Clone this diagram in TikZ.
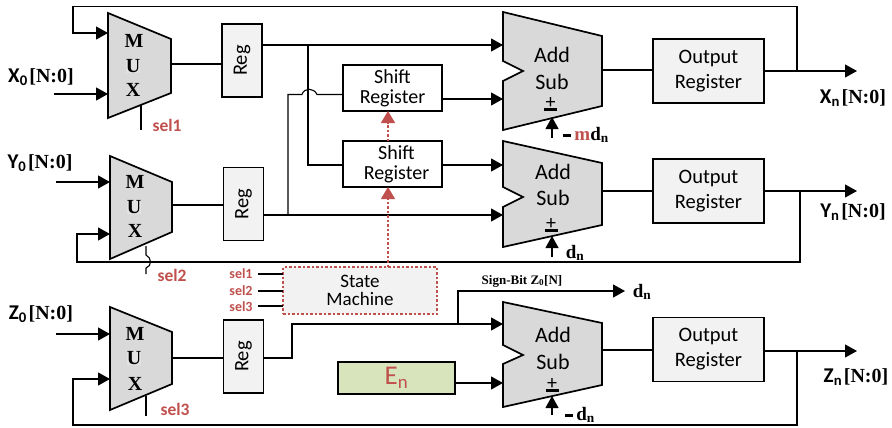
\documentclass[tikz,border=0pt]{standalone}
\usepackage{fontspec}
\setmainfont{Carlito}
\newfontfamily\timesfont{Liberation Serif}
\usepackage{xcolor}
\usetikzlibrary{arrows.meta, positioning, calc}
\definecolor{kgray}{HTML}{D9D9D9}
\definecolor{kbox}{HTML}{F2F2F2}
\definecolor{kred}{HTML}{C0504D}
\definecolor{kgreen}{HTML}{D8E4BC}
\newcommand{\portlabel}[2]{{\fontsize{21}{21}\selectfont\bfseries #1\textsubscript{#2}}\,{\timesfont\fontsize{20}{20}\selectfont\bfseries [N:0]}}
\newcommand{\plusbar}{\shortstack{\fontsize{20}{10}\selectfont +\\[-3pt]\rule{13pt}{3pt}}}
\newcommand{\minusbar}{\rule[3.5pt]{8pt}{2.6pt}}
\tikzset{
  wire/.style={line width=1.1pt},
  arrowwire/.style={wire, -{Triangle[length=12pt, width=13pt]}},
  reddash/.style={kred, line width=1.2pt, dash pattern=on 2.5pt off 2pt, -{Triangle[length=12pt, width=14pt]}},
  blockshape/.style={fill=kgray, draw=black, line width=1.7pt, line join=miter},
  boxnode/.style={draw, fill=kbox, line width=1.3pt, inner sep=0pt, outer sep=0pt, align=center, font=\fontsize{20.5}{25}\selectfont},
  regnode/.style={boxnode, minimum width=40pt, minimum height=73pt},
  outnode/.style={boxnode, minimum width=111pt, minimum height=64pt},
  shiftnode/.style={draw, fill=white, line width=1.3pt, inner sep=0pt, outer sep=0pt, align=center, minimum width=99pt, minimum height=46pt, font=\fontsize{20}{20}\selectfont},
  muxtext/.style={font=\timesfont\fontsize{20}{20}\selectfont\bfseries, inner sep=0pt},
  addtext/.style={font=\fontsize{22}{22}\selectfont, inner sep=0pt},
  seltext/.style={font=\fontsize{17.5}{17.5}\selectfont\bfseries, text=kred, inner sep=0pt},
  smalltext/.style={font=\fontsize{14}{14}\selectfont\bfseries, text=kred, inner sep=0pt},
  valtext/.style={font=\timesfont\fontsize{19}{19}\selectfont\bfseries, inner sep=0pt},
  iolabel/.style={inner sep=0pt},
}
\begin{document}
\begin{tikzpicture}[x=1pt, y=-1pt]
\useasboundingbox (0,0) rectangle (892,428);
% multiplexers
\draw[blockshape] (108,13) -- (171,39) -- (171,93) -- (108,118) -- cycle;
\draw[blockshape] (110,156) -- (172,182) -- (172,232) -- (110,259) -- cycle;
\draw[blockshape] (110,307) -- (172,332) -- (172,384) -- (110,410) -- cycle;
\node[muxtext] (mux1m) at (134,41) {M};
\node[muxtext, fill=kgray!75] (mux1u) at (133,66) {U};
\node[muxtext] (mux1x) at (133,90) {X};
\node[muxtext] (mux2m) at (135,182) {M};
\node[muxtext, fill=kgray!75] (mux2u) at (134,207) {U};
\node[muxtext] (mux2x) at (135,231) {X};
\node[muxtext] (mux3m) at (135,334) {M};
\node[muxtext, fill=kgray!75] (mux3u) at (134,358) {U};
\node[muxtext] (mux3x) at (135,384) {X};
% add/sub blocks
\draw[blockshape] (503,12) -- (602,36) -- (602,106) -- (503,130) -- (503,81) -- (523,71) -- (503,61) -- cycle;
\draw[blockshape] (503,141) -- (602,163) -- (602,225) -- (503,247) -- (503,207) -- (523,197) -- (503,187) -- cycle;
\draw[blockshape] (503,302) -- (602,323) -- (602,385) -- (503,407) -- (503,364) -- (523,355) -- (503,345) -- cycle;
\node[addtext] (add1a) at (552,55) {Add};
\node[addtext] (add1s) at (552,82) {Sub};
\node[addtext] (add1p) at (550.5,104.5) {\plusbar};
\node[addtext] (add2a) at (553,172) {Add};
\node[addtext] (add2s) at (553,198) {Sub};
\node[addtext] (add2p) at (551,225.5) {\plusbar};
\node[addtext] (add3a) at (553,335) {Add};
\node[addtext] (add3s) at (553,362) {Sub};
\node[addtext] (add3p) at (552,385) {\plusbar};
% registers
\node[regnode] (reg1) at (242,60.5) {\rotatebox{90}{Reg}};
\node[regnode] (reg2) at (243.5,204) {\rotatebox{90}{Reg}};
\node[regnode] (reg3) at (243.5,356.5) {\rotatebox{90}{Reg}};
\node[shiftnode] (shift1) at (392.5,88) {\raisebox{-1pt}{Shift}\\\raisebox{-1pt}{Register}};
\node[shiftnode] (shift2) at (392.5,164) {\hspace{8pt}\raisebox{-1pt}{Shift}\\\hspace{8pt}\raisebox{-1pt}{Register}};
\node[outnode] (out1) at (708.5,71) {\raisebox{-1pt}{Output}\\\raisebox{-1pt}{Register}};
\node[outnode] (out2) at (708.5,191) {\raisebox{-1pt}{Output}\\\raisebox{-1pt}{Register}};
\node[outnode] (out3) at (708.5,349.5) {\raisebox{-1pt}{Output}\\\raisebox{-1pt}{Register}};
\node[draw=kred, fill=kbox, dash pattern=on 2.5pt off 2pt, line width=1.2pt, minimum width=154pt, minimum height=47pt, inner sep=0pt, outer sep=0pt, align=center, font=\fontsize{19}{18}\selectfont] (fsm) at (360,290.5) {State\\Machine};
\node[draw, fill=kgreen, line width=1.3pt, minimum width=117pt, minimum height=32pt, inner sep=0pt, outer sep=0pt, text=kred, font=\fontsize{27}{27}\selectfont] (en) at (396.5,378) {E\textsubscript{n}};
% end points of the free wires
\coordinate (x0in) at (54,94);
\coordinate (y0in) at (56,182);
\coordinate (z0in) at (56,334);
\coordinate (xnout) at (857,71);
\coordinate (ynout) at (857,191);
\coordinate (znout) at (857,351);
\coordinate (dnout) at (625,291);
% inputs and feedback
\draw[arrowwire] (x0in) -- (x0in -| 108,0);
\draw[arrowwire] (y0in) -- (y0in -| 110,0);
\draw[arrowwire] (z0in) -- (z0in -| 110,0);
\draw[arrowwire] (797,71) -- (797,6.5) -- (73,6.5) -- (73,33) -- (108,33);
\draw[arrowwire] (800,191) -- (800,262) -- (77,262) -- (77,234) -- (110,234);
\draw[arrowwire] (797,351) -- (797,425) -- (73,425) -- (73,379) -- (110,379);
% mux to reg
\draw[wire] (171,64) -- (reg1.west |- 0,64);
\draw[wire] (172,205) -- (reg2.west |- 0,205);
\draw[wire] (172,358) -- (reg3.west |- 0,358);
\draw[wire] (141,105) -- (141,130);
\draw[wire] (146,246) -- (146,255) .. controls (152,258) and (152,266) .. (146,268) -- (146,274);
\draw[wire] (146,396) -- (146,416);
% reg to add/sub
\draw[arrowwire] (reg1.east |- 0,45) -- (503,45);
\draw[arrowwire] (reg2.east |- 0,215) -- (503,215);
\draw[wire] (308,45) -- (308,165) -- (shift2.west |- 0,165);
\draw[wire] (288,215) -- (288,94.5) -- (302,94.5) .. controls (304,87.5) and (314,87.5) .. (317,94.5) -- (shift1.west |- 0,94.5);
\draw[arrowwire] (shift1.east |- 0,99) -- (503,99);
\draw[arrowwire] (shift2.east |- 0,165) -- (503,165);
\draw[arrowwire] (reg3.east |- 0,358) -- (292,358) -- (292,324) -- (503,324);
\draw[arrowwire] (458,324) -- (458,291) -- (dnout);
\draw[arrowwire] (en.east |- 0,383) -- (503,383);
% add/sub to output
\draw[wire] (602,70) -- (out1.west |- 0,70);
\draw[wire] (602,191) -- (out2.west);
\draw[wire] (602,350) -- (out3.west |- 0,350);
\draw[arrowwire] (out1.east) -- (xnout);
\draw[arrowwire] (out2.east) -- (ynout);
\draw[arrowwire] (out3.east |- znout) -- (znout);
% +/- controls
\draw[arrowwire] (552,138) -- (552,117);
\draw[arrowwire] (552,257) -- (552,236);
\draw[arrowwire] (552,415) -- (552,396);
% state machine
\draw[wire] (258,274) -- (fsm.west |- 0,274);
\draw[wire] (258,291) -- (fsm.west |- 0,291);
\draw[wire] (258,306) -- (fsm.west |- 0,306);
\draw[reddash] (fsm.north -| 388,0) -- (shift2.south -| 388,0);
\draw[reddash] (shift2.north -| 388,0) -- (shift1.south -| 388,0);
% labels
\node[iolabel] (x0lab) at (41,77) {\portlabel{X}{0}};
\node[iolabel] (y0lab) at (40,163) {\portlabel{Y}{0}};
\node[iolabel] (z0lab) at (41,314) {\portlabel{Z}{0}};
\node[iolabel] (xnlab) at (853,98) {\portlabel{X}{n}};
\node[iolabel] (ynlab) at (853,212) {\portlabel{Y}{n}};
\node[iolabel] (znlab) at (856,377) {\portlabel{Z}{n}};
\node[seltext] (sel1lab) at (167,125) {sel1};
\node[seltext] (sel2lab) at (172,275) {sel2};
\node[seltext] (sel3lab) at (175,409) {sel3};
\node[smalltext] (fsel1) at (241,274) {sel1};
\node[smalltext] (fsel2) at (241,291) {sel2};
\node[smalltext] (fsel3) at (241,307) {sel3};
\node[valtext] (mdlab) at (586,135) {\minusbar\,\textcolor{kred}{m}d\textsubscript{n}};
\node[valtext] (dlab2) at (575,253) {d\textsubscript{n}};
\node[valtext] (dlab3) at (580,415) {\minusbar\,d\textsubscript{n}};
\node[valtext] (dlab4) at (642,292) {d\textsubscript{n}};
\node[font=\timesfont\fontsize{13}{13}\selectfont\bfseries, inner sep=0pt] (signlab) at (522,281) {Sign-Bit Z\textsubscript{0}[N]};
\end{tikzpicture}
\end{document}
